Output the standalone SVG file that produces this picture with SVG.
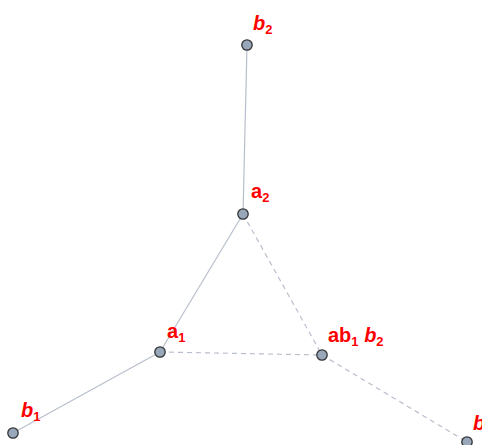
<svg xmlns="http://www.w3.org/2000/svg" width="482" height="445" viewBox="0 0 482 445">
<style>
.e{stroke:#b8bfcc;stroke-width:1.2;fill:none}
.d{stroke:#b8bfcc;stroke-width:1.2;fill:none;stroke-dasharray:5 4}
.n{fill:#99a7ba;stroke:#333;stroke-width:1.3}
.l{font-family:"Liberation Sans",Arial,sans-serif;font-weight:bold;font-size:20px;fill:#ff0000}
.s{font-size:13px}
.i{font-style:italic}
</style>
<rect width="482" height="445" fill="#fff"/>
<g id="connectors">
<line class="e" x1="247" y1="45" x2="243" y2="214"/>
<line class="e" x1="243" y1="214" x2="160" y2="352"/>
<line class="e" x1="160" y1="352" x2="13" y2="433"/>
<line class="d" x1="243" y1="214" x2="322" y2="355"/>
<line class="d" x1="160" y1="352" x2="322" y2="355"/>
<line class="d" x1="322" y1="355" x2="467" y2="442"/>
</g>
<g id="b2top"><circle class="n" cx="247" cy="45" r="5.2"/><text class="l" x="253" y="30"><tspan class="i">b</tspan><tspan class="s" dy="4">2</tspan></text></g>
<g id="a2"><circle class="n" cx="243" cy="214" r="5.2"/><text class="l" x="251" y="198">a<tspan class="s" dy="4">2</tspan></text></g>
<g id="a1"><circle class="n" cx="160" cy="352" r="5.2"/><text class="l" x="167" y="338">a<tspan class="s" dy="4">1</tspan></text></g>
<g id="ab1b2"><circle class="n" cx="322" cy="355" r="5.2"/><text class="l" x="328" y="342">ab<tspan class="s" dy="4">1</tspan><tspan dy="-4"> </tspan><tspan class="i">b</tspan><tspan class="s" dy="4">2</tspan></text></g>
<g id="b1"><circle class="n" cx="13" cy="433" r="5.2"/><text class="l" x="21" y="417"><tspan class="i">b</tspan><tspan class="s" dy="4">1</tspan></text></g>
<g id="b3"><circle class="n" cx="467" cy="442" r="5.2"/><text class="l" x="473" y="430"><tspan class="i">b</tspan></text></g>
</svg>
